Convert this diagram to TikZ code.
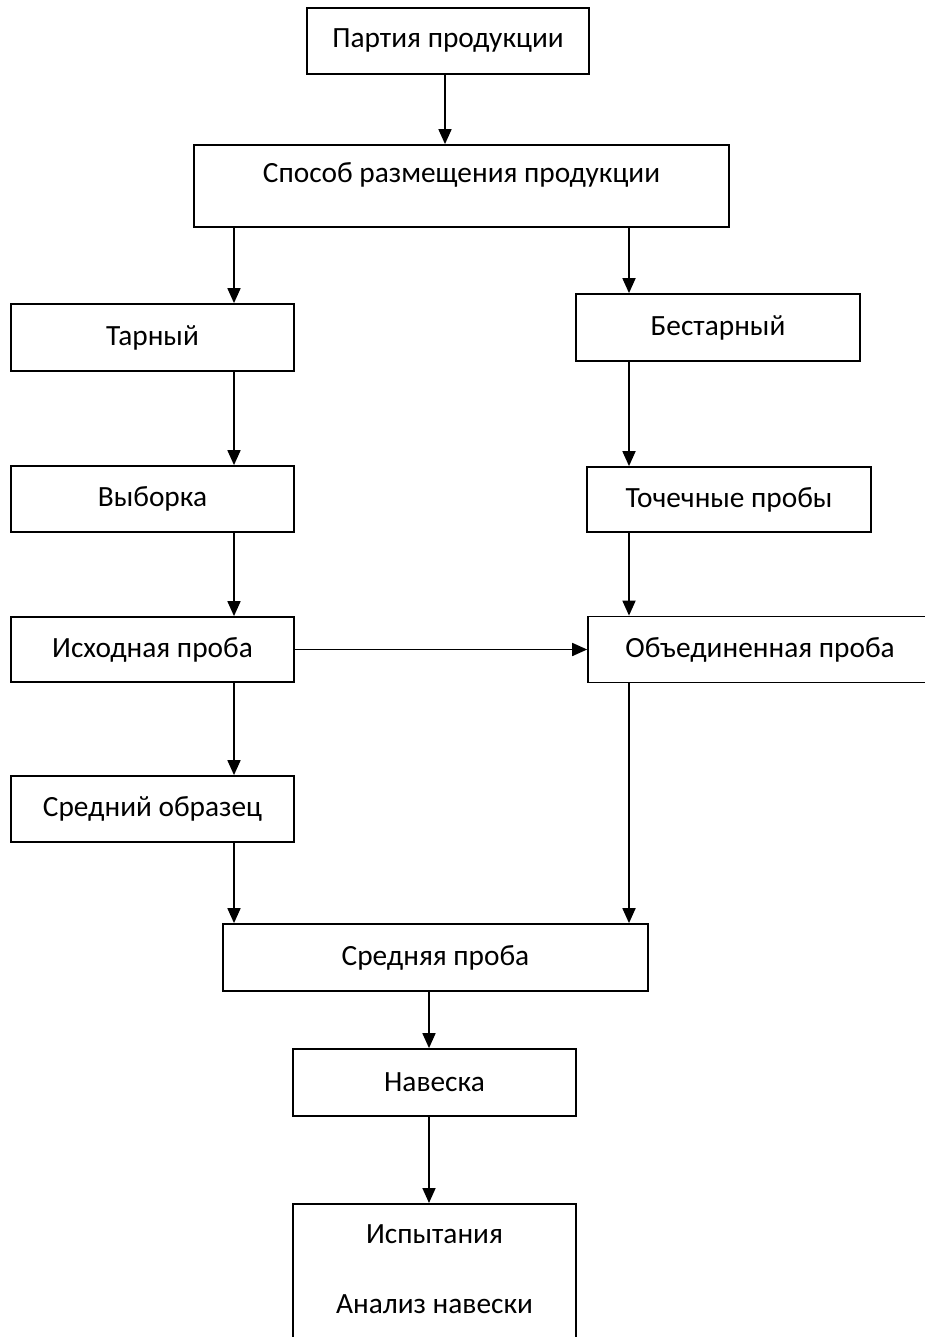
\documentclass[tikz,border=0pt]{standalone}
\usepackage{fontspec}
\setmainfont{Carlito}
\usetikzlibrary{arrows.meta,calc}

\tikzset{
  box/.style={draw,line width=1pt,rectangle,minimum width=5.66cm,
              minimum height=1.32cm,inner sep=2pt,align=center,
              font=\fontsize{16.7}{20}\selectfont},
  arr/.style={line width=1pt,-{Triangle[length=3mm,width=2.6mm]}}
}

\begin{document}
\begin{tikzpicture}[x=0.02cm,y=-0.02cm]
  \useasboundingbox (0,0) rectangle (925,1337);
  % columns of the connectors
  \coordinate (colA) at (445,0);
  \coordinate (colL) at (234,0);
  \coordinate (colR) at (629,0);
  \coordinate (colB) at (429,0);

  \node[box,minimum width=5.64cm] (partiya) at (448,41) {Партия продукции};
  \node[box,minimum width=10.7cm,minimum height=1.64cm,text depth=0.55cm]
        (sposob) at (461.5,186) {Способ размещения продукции};

  \node[box,minimum height=1.34cm] (tarny) at (152.5,337.5) {Тарный};
  \node[box,minimum width=5.68cm,minimum height=1.34cm] (bestarny) at (718,327.5) {Бестарный};

  \node[box] (vyborka) at (152.5,499) {Выборка};
  \node[box,minimum width=5.68cm,minimum height=1.3cm] (tochechnye) at (729,499.5) {Точечные пробы};

  \node[box,minimum height=1.3cm] (iskhodnaya) at (152.5,649.5) {Исходная проба};
  \node[box,minimum width=6.88cm] (obyed) at (760,649.5) {Объединенная проба};

  \node[box] (sredny) at (152.5,809) {Средний образец};
  \node[box,minimum width=8.5cm,minimum height=1.34cm] (srednyaya) at (435.5,957.5) {Средняя проба};
  \node[box,minimum height=1.34cm] (naveska) at (434.5,1082.5) {Навеска};
  \node[box,anchor=north,minimum height=4cm] (ispyt) at (434.5,1203)
        {Испытания\\[19.8pt]Анализ навески\\[19.8pt]~};

  % connectors
  \draw[arr] (partiya.south -| colA) -- (sposob.north -| colA);
  \draw[arr] (sposob.south -| colL) -- (tarny.north -| colL);
  \draw[arr] (sposob.south -| colR) -- (bestarny.north -| colR);
  \draw[arr] (tarny.south -| colL) -- (vyborka.north -| colL);
  \draw[arr] (vyborka.south -| colL) -- (iskhodnaya.north -| colL);
  \draw[arr] (iskhodnaya.south -| colL) -- (sredny.north -| colL);
  \draw[arr] (sredny.south -| colL) -- (srednyaya.north -| colL);
  \draw[arr] (bestarny.south -| colR) -- (tochechnye.north -| colR);
  \draw[arr] (tochechnye.south -| colR) -- (obyed.north -| colR);
  \draw[arr] (obyed.south -| colR) -- (srednyaya.north -| colR);
  \draw[arr] (iskhodnaya.east) -- (obyed.west);
  \draw[arr] (srednyaya.south -| colB) -- (naveska.north -| colB);
  \draw[arr] (naveska.south -| colB) -- (ispyt.north -| colB);
\end{tikzpicture}
\end{document}
